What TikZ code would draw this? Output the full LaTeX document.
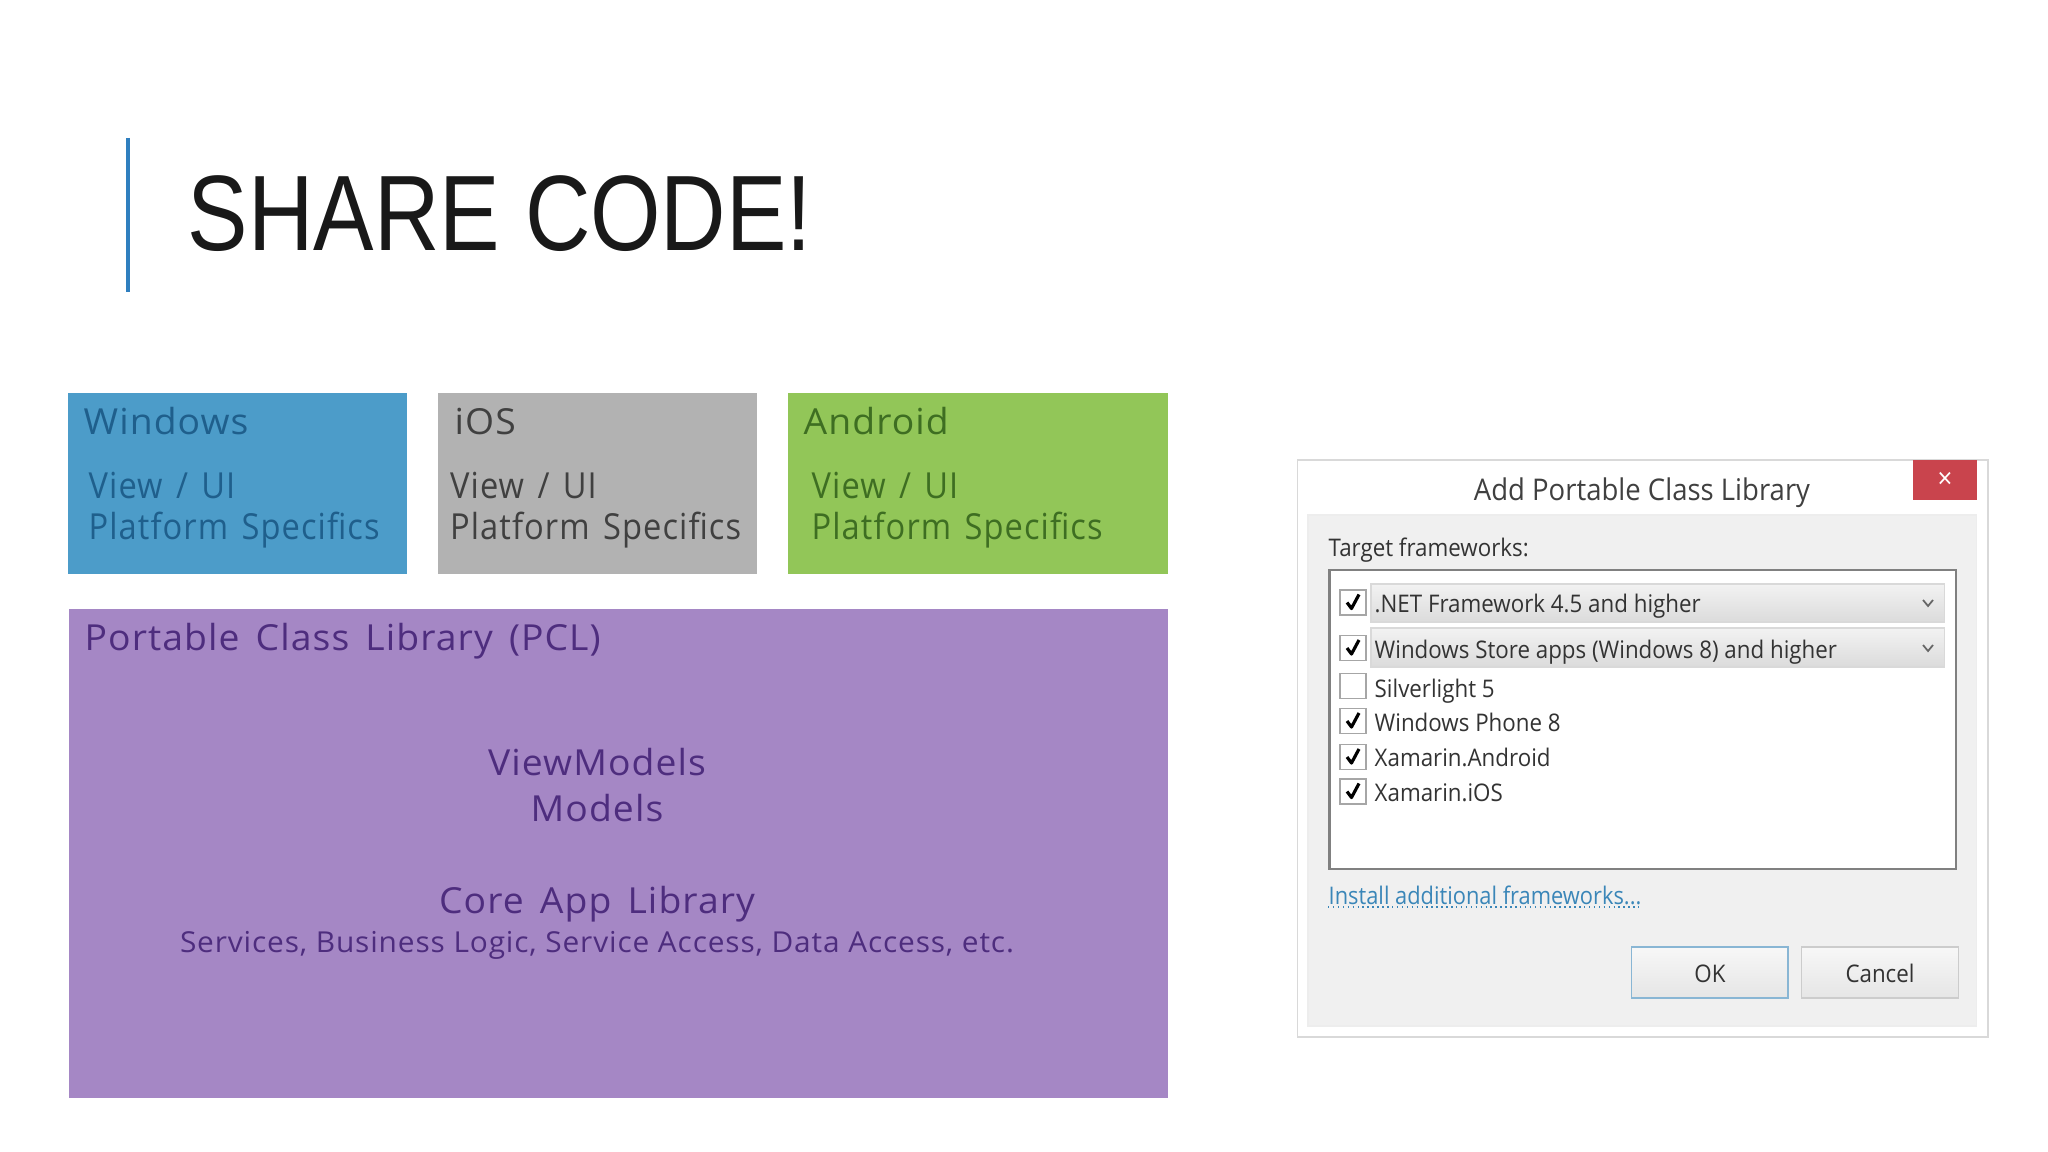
\documentclass[tikz,border=0pt]{standalone}
\usepackage{fontspec}
\setmainfont{Open Sans}
\newfontfamily\titlefont[FakeStretch=0.845]{Liberation Sans}
\newfontfamily\boxfont[LetterSpace=3,FakeStretch=1.04,WordSpace=1.5]{Open Sans}
\newfontfamily\servfont[LetterSpace=3,FakeStretch=1.035]{Open Sans}
\newfontfamily\specfont[LetterSpace=3,FakeStretch=0.91,WordSpace=1.4]{Open Sans}
\newfontfamily\dlgfont[FakeStretch=0.92]{Open Sans}
\newfontfamily\linkfont[FakeStretch=0.9]{Open Sans}
\definecolor{winblue}{HTML}{4C9CC9}
\definecolor{wintext}{HTML}{1F5F8C}
\definecolor{iosgray}{HTML}{B2B2B2}
\definecolor{iostext}{HTML}{404040}
\definecolor{andgreen}{HTML}{92C658}
\definecolor{andtext}{HTML}{3E6E22}
\definecolor{pclpurple}{HTML}{A587C5}
\definecolor{pcltext}{HTML}{4E2D7E}
\definecolor{barblue}{HTML}{2F7FBF}
\definecolor{closered}{HTML}{C9444D}
\definecolor{linkblue}{HTML}{3A86B8}
\tikzset{
  big/.style={anchor=base west,inner sep=0pt,font=\boxfont\fontsize{10.2}{12}\selectfont},
  spec/.style={anchor=base west,inner sep=0pt,font=\specfont\fontsize{10.2}{12}\selectfont},
  mid/.style={anchor=base,inner sep=0pt,font=\boxfont\fontsize{10.2}{12}\selectfont},
  dlg/.style={anchor=base west,inner sep=0pt,text=black!80,font=\dlgfont\fontsize{6.9}{8}\selectfont},
  chkbox/.style={draw=black!35,fill=white,line width=0.3pt},
  chkmark/.style={line width=0.9pt,line join=round},
  strip/.style={draw=black!15,top color=black!5,bottom color=black!14,line width=0.3pt},
  btn/.style={top color=black!3,bottom color=black!10,line width=0.4pt}
}
\begin{document}
\begin{tikzpicture}[x=0.01cm,y=-0.01cm]
\useasboundingbox (0,0) rectangle (2048,1152);
% title
\draw[barblue,line width=0.9pt] (128,138) -- (128,292);
\node[anchor=base west,inner sep=0pt,text=black!90,font=\titlefont\fontsize{30.5}{36}\selectfont] (title) at (187,251) {SHARE CODE!};
% platform boxes
\fill[winblue] (68,393) rectangle (407,574);
\fill[iosgray] (437.5,393) rectangle (757,574);
\fill[andgreen] (787.5,393) rectangle (1167.5,574);
\fill[pclpurple] (69,609) rectangle (1167.5,1098);
\node[big,text=wintext] (win) at (83,435) {Windows};
\node[spec,text=wintext] (winview) at (88,499) {View / UI};
\node[spec,text=wintext] (winspec) at (88,540) {Platform Specifics};
\node[big,text=iostext] (ios) at (454,435) {iOS};
\node[spec,text=iostext] (iosview) at (449.5,499) {View / UI};
\node[spec,text=iostext] (iosspec) at (449.5,540) {Platform Specifics};
\node[big,text=andtext] (and) at (803,435) {Android};
\node[spec,text=andtext] (andview) at (811,499) {View / UI};
\node[spec,text=andtext] (andspec) at (811,540) {Platform Specifics};
% pcl
\node[big,text=pcltext] (pcl) at (84,650) {Portable Class Library (PCL)};
\node[mid,text=pcltext] (vm) at (597,775) {ViewModels};
\node[mid,text=pcltext] (models) at (597,821) {Models};
\node[mid,text=pcltext] (core) at (597,913) {Core App Library};
\node[mid,text=pcltext,font=\servfont\fontsize{8.2}{10}\selectfont] (serv) at (597,952) {Services, Business Logic, Service Access, Data Access, etc.};
% dialog
\draw[black!15,fill=white,line width=0.4pt] (1297.5,460) rectangle (1988,1037);
\draw[black!7,fill=black!6,line width=0.4pt] (1308,515) rectangle (1976.5,1026);
\fill[closered] (1913,460) rectangle (1976.5,500);
\node[anchor=center,inner sep=0pt,text=white,font=\dlgfont\fontsize{8}{9}\selectfont] (close) at (1945,480) {×};
\node[anchor=base,inner sep=0pt,text=black!75,font=\dlgfont\fontsize{8.5}{10}\selectfont] (head) at (1642,501) {Add Portable Class Library};
\node[dlg] (target) at (1328,556.5) {Target frameworks:};
\draw[black!50,fill=white,line width=0.6pt] (1329.5,570) rectangle (1956,869);
\draw[strip] (1371,584) rectangle (1944.5,622);
\draw[strip] (1371,628) rectangle (1944.5,667);
\foreach \y in {603,648}
  \draw[black!60,line width=0.5pt] (1923,\y-3) -- (1928,\y+3) -- (1933,\y-3);
\foreach \i/\y in {1/602.5,2/648,3/686,4/721,5/757,6/791.5}
  \draw[chkbox] (1340,\y-12.5) rectangle (1366,\y+12.5);
\foreach \y in {602.5,648,721,757,791.5}
  \draw[chkmark] (1347,\y) -- (1351.5,\y+6) -- (1359,\y-8);
\node[dlg] (net) at (1374,612.5) {.NET Framework 4.5 and higher};
\node[dlg] (store) at (1374,658) {Windows Store apps (Windows 8) and higher};
\node[dlg] (silver) at (1374,697) {Silverlight 5};
\node[dlg] (phone) at (1374,731.5) {Windows Phone 8};
\node[dlg] (xand) at (1374,766.5) {Xamarin.Android};
\node[dlg] (xios) at (1374,801.5) {Xamarin.iOS};
\node[dlg,text=linkblue,font=\linkfont\fontsize{6.9}{8}\selectfont] (link) at (1328,904) {Install additional frameworks...};
\draw[linkblue,densely dotted,line width=0.4pt] (link.base west)++(0,3) -- ++(311,0);
\draw[btn,draw=linkblue!60] (1631.5,947) rectangle (1788,998);
\draw[btn,draw=black!20] (1801.5,947) rectangle (1958.5,998);
\node[dlg,anchor=base] (ok) at (1710,982) {OK};
\node[dlg,anchor=base] (cancel) at (1880,982) {Cancel};
\end{tikzpicture}
\end{document}
